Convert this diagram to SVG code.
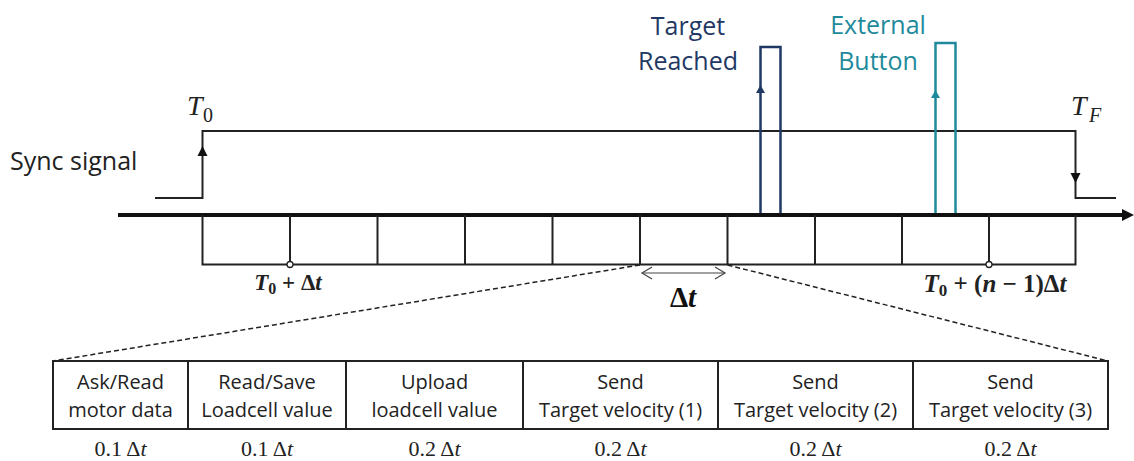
<svg xmlns="http://www.w3.org/2000/svg" width="1134" height="461" viewBox="0 0 1134 461">
<style>
.ln{fill:none;stroke:#222;stroke-width:2}
.sans{font-family:"Open Sans","Noto Sans",sans-serif}
.math{font-family:"Liberation Serif","DejaVu Serif",serif}
.cell{font-family:"Open Sans","Noto Sans",sans-serif;font-size:20px;fill:#222;text-anchor:middle}
.dur{font-family:"Liberation Serif","DejaVu Serif",serif;font-size:22px;fill:#222;text-anchor:middle}
.dash{fill:none;stroke:#222;stroke-width:1.5;stroke-dasharray:5,3}
</style>
<rect width="1134" height="461" fill="#fff"/>
<g id="sync-signal">
  <text class="sans" x="10" y="170" font-size="25" fill="#222">Sync signal</text>
  <polyline class="ln" points="155,198 202.5,198 202.5,131 1075.5,131 1075.5,198 1116,198"/>
  <polygon points="202.5,146 197.5,156 207.5,156" fill="#111"/>
  <polygon points="1075.5,183 1070.5,173 1080.5,173" fill="#111"/>
  <text class="math" x="187" y="115" font-size="28" font-style="italic" fill="#222">T</text>
  <text class="math" x="203" y="122" font-size="20" fill="#222">0</text>
  <text class="math" x="1071" y="115" font-size="28" font-style="italic" fill="#222">T</text>
  <text class="math" x="1089" y="122" font-size="20" font-style="italic" fill="#222">F</text>
</g>
<g id="target-reached">
  <text class="sans" x="688" y="35" font-size="25" fill="#1f3864" text-anchor="middle">Target</text>
  <text class="sans" x="688" y="70" font-size="25" fill="#1f3864" text-anchor="middle">Reached</text>
  <polyline points="760.5,215 760.5,47 780.5,47 780.5,215" fill="none" stroke="#1f3864" stroke-width="2.5"/>
  <polygon points="760.5,85 756,93 765,93" fill="#1f3864"/>
</g>
<g id="external-button">
  <text class="sans" x="878" y="34" font-size="25" fill="#1e8a9c" text-anchor="middle">External</text>
  <text class="sans" x="878" y="70" font-size="25" fill="#1e8a9c" text-anchor="middle">Button</text>
  <polyline points="935.5,215 935.5,43 955.5,43 955.5,215" fill="none" stroke="#1e8a9c" stroke-width="2.5"/>
  <polygon points="935.5,90 931,98 940,98" fill="#1e8a9c"/>
</g>
<g id="time-axis">
  <line x1="118" y1="215" x2="1124" y2="215" stroke="#111" stroke-width="4"/>
  <polygon points="1134,215 1122,209 1122,221" fill="#111"/>
  <polyline class="ln" points="202.5,215 202.5,264.5 1075.5,264.5 1075.5,215"/>
  <g class="ln">
    <line x1="290" y1="215" x2="290" y2="264"/>
    <line x1="377.5" y1="215" x2="377.5" y2="264"/>
    <line x1="465" y1="215" x2="465" y2="264"/>
    <line x1="552.5" y1="215" x2="552.5" y2="264"/>
    <line x1="640" y1="215" x2="640" y2="264"/>
    <line x1="727.5" y1="215" x2="727.5" y2="264"/>
    <line x1="815" y1="215" x2="815" y2="264"/>
    <line x1="902" y1="215" x2="902" y2="264"/>
    <line x1="989" y1="215" x2="989" y2="264"/>
  </g>
  <circle cx="290" cy="264.5" r="3" fill="#fff" stroke="#222" stroke-width="1.3"/>
  <circle cx="989" cy="264.5" r="3" fill="#fff" stroke="#222" stroke-width="1.3"/>
  <text class="math" x="288" y="290" font-size="23" font-weight="bold" fill="#222" text-anchor="middle"><tspan font-style="italic">T</tspan><tspan font-size="16" dy="4">0</tspan><tspan dy="-4"> + Δ</tspan><tspan font-style="italic">t</tspan></text>
  <text class="math" x="995" y="292" font-size="25" font-weight="bold" fill="#222" text-anchor="middle"><tspan font-style="italic">T</tspan><tspan font-size="17" dy="4">0</tspan><tspan dy="-4"> + (</tspan><tspan font-style="italic">n</tspan><tspan> − 1)Δ</tspan><tspan font-style="italic">t</tspan></text>
</g>
<g id="delta-t">
  <line x1="642" y1="273" x2="725" y2="273" stroke="#444" stroke-width="1.2"/>
  <polyline points="652,267 642,273 652,279" fill="none" stroke="#444" stroke-width="1.2"/>
  <polyline points="715,267 725,273 715,279" fill="none" stroke="#444" stroke-width="1.2"/>
  <text class="math" x="683" y="307" font-size="29" font-weight="bold" fill="#111" text-anchor="middle">Δ<tspan font-style="italic">t</tspan></text>
</g>
<g id="connectors">
  <line class="dash" x1="640" y1="265" x2="53" y2="361"/>
  <line class="dash" x1="727.5" y1="265" x2="1108" y2="361"/>
</g>
<g id="task-table">
  <rect x="53" y="361" width="1055" height="68" fill="none" stroke="#222" stroke-width="2"/>
  <g class="ln">
    <line x1="188" y1="361" x2="188" y2="429"/>
    <line x1="346" y1="361" x2="346" y2="429"/>
    <line x1="523" y1="361" x2="523" y2="429"/>
    <line x1="718" y1="361" x2="718" y2="429"/>
    <line x1="913" y1="361" x2="913" y2="429"/>
  </g>
</g>
<g id="cell-1">
  <text class="cell" x="120.5" y="389">Ask/Read</text>
  <text class="cell" x="120.5" y="417">motor data</text>
  <text class="dur" x="120.5" y="456">0.1 Δ<tspan font-style="italic">t</tspan></text>
</g>
<g id="cell-2">
  <text class="cell" x="267" y="389">Read/Save</text>
  <text class="cell" x="267" y="417">Loadcell value</text>
  <text class="dur" x="267" y="456">0.1 Δ<tspan font-style="italic">t</tspan></text>
</g>
<g id="cell-3">
  <text class="cell" x="434.5" y="389">Upload</text>
  <text class="cell" x="434.5" y="417">loadcell value</text>
  <text class="dur" x="434.5" y="456">0.2 Δ<tspan font-style="italic">t</tspan></text>
</g>
<g id="cell-4">
  <text class="cell" x="620.5" y="389">Send</text>
  <text class="cell" x="620.5" y="417">Target velocity (1)</text>
  <text class="dur" x="620.5" y="456">0.2 Δ<tspan font-style="italic">t</tspan></text>
</g>
<g id="cell-5">
  <text class="cell" x="815.5" y="389">Send</text>
  <text class="cell" x="815.5" y="417">Target velocity (2)</text>
  <text class="dur" x="815.5" y="456">0.2 Δ<tspan font-style="italic">t</tspan></text>
</g>
<g id="cell-6">
  <text class="cell" x="1010.5" y="389">Send</text>
  <text class="cell" x="1010.5" y="417">Target velocity (3)</text>
  <text class="dur" x="1010.5" y="456">0.2 Δ<tspan font-style="italic">t</tspan></text>
</g>
</svg>
